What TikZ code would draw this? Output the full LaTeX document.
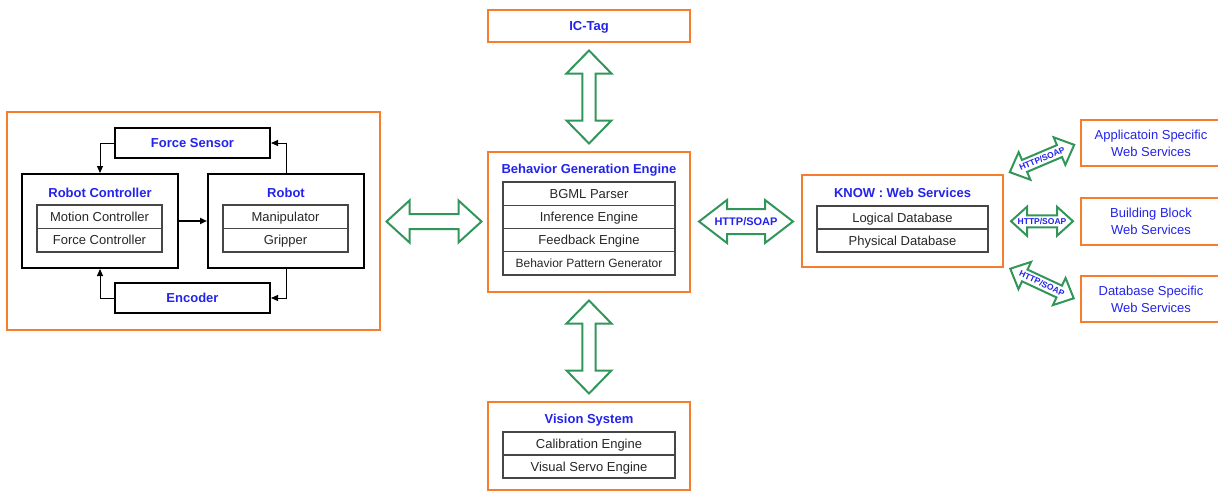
\documentclass[tikz,border=0pt]{standalone}
\usepackage{fontspec}
\setmainfont{Liberation Sans}
\usetikzlibrary{arrows.meta,calc}
\definecolor{orng}{RGB}{245,125,45}
\definecolor{tblue}{RGB}{35,35,235}
\definecolor{agreen}{RGB}{50,150,90}
\definecolor{sgray}{RGB}{70,70,70}
% double-headed block arrow: center, angle, half length, head half width, shaft half width, head length
\newcommand\dblarr[6]{%
  \begin{scope}[shift={#1},rotate=#2]
    \draw[garrow] (-#3,0) -- (-#3+#6,#4) -- (-#3+#6,#5) -- (#3-#6,#5) -- (#3-#6,#4) -- (#3,0)
      -- (#3-#6,-#4) -- (#3-#6,-#5) -- (-#3+#6,-#5) -- (-#3+#6,-#4) -- cycle;
  \end{scope}}
\begin{document}
\begin{tikzpicture}[x=1pt,y=-1pt,
  obox/.style={draw=orng, line width=2pt, inner sep=0pt},
  kbox/.style={draw=black, line width=2pt, inner sep=0pt},
  sbox/.style={draw=sgray, line width=1.1pt, inner sep=0pt, font=\fontsize{13}{15}\selectfont, text=black!85, text height=9.3pt, text depth=0pt},
  tfont/.style={font=\fontsize{13}{15}\selectfont\bfseries, text=tblue, text height=9.3pt, text depth=0pt},
  ttl/.style={tfont, inner sep=0pt},
  rfont/.style={font=\fontsize{13}{17}\selectfont, text=tblue, align=center},
  lbl/.style={font=\fontsize{11}{13}\selectfont\bfseries, text=tblue, inner sep=0pt, text height=7.9pt, text depth=0pt},
  slbl/.style={font=\fontsize{8.5}{10}\selectfont\bfseries, text=tblue, inner sep=0pt, text height=6.1pt, text depth=0pt},
  garrow/.style={draw=agreen, line width=2pt, fill=white, line join=miter},
  fb/.style={line width=1pt, -{Triangle[length=7pt,width=6pt]}},
]
\useasboundingbox (0,0) rectangle (1218,493);

% IC-Tag
\node[obox, tfont, minimum width=202, minimum height=32] (ictag) at (589,26) {IC-Tag};

% Robot system
\node[obox, minimum width=373, minimum height=218] (rsys) at (193.5,221) {};
\node[kbox, tfont, minimum width=155, minimum height=30] (fs) at (192.5,143) {Force Sensor};
\node[kbox, tfont, minimum width=155, minimum height=30] (enc) at (192.5,298) {Encoder};
\node[kbox, minimum width=156, minimum height=94] (rc) at (100,221) {};
\node[ttl] (rct) at (100,193) {Robot Controller};
\node[sbox, minimum width=125, minimum height=23.5] (mc) at (99.5,216.75) {Motion Controller};
\node[sbox, minimum width=125, minimum height=23.5] (fc) at (99.5,240.25) {Force Controller};
\node[kbox, minimum width=156, minimum height=94] (rob) at (286,221) {};
\node[ttl] (robt) at (286,193) {Robot};
\node[sbox, minimum width=125, minimum height=23.5] (man) at (285.5,216.75) {Manipulator};
\node[sbox, minimum width=125, minimum height=23.5] (grip) at (285.5,240.25) {Gripper};

\draw[fb] (fs.west) -| (rc.north);
\draw[fb] (rob.north) |- (fs.east);
\draw[fb] (rob.south) |- (enc.east);
\draw[fb] (enc.west) -| (rc.south);
\draw[line width=2pt, -{Triangle[length=7pt,width=6pt]}] (rc.east) -- (rob.west);

% Behavior Generation Engine
\node[obox, minimum width=202, minimum height=140] (bge) at (589,222) {};
\node[ttl] (bget) at (589,169) {Behavior Generation Engine};
\node[sbox, minimum width=172, minimum height=23.25] (bg1) at (589,193.6) {BGML Parser};
\node[sbox, minimum width=172, minimum height=23.25] (bg2) at (589,216.9) {Inference Engine};
\node[sbox, minimum width=172, minimum height=23.25] (bg3) at (589,240.1) {Feedback Engine};
\node[sbox, minimum width=172, minimum height=23.25, font=\fontsize{12}{14}\selectfont, text height=8.6pt] (bg4) at (589,263.4) {Behavior Pattern Generator};

% Vision System
\node[obox, minimum width=202, minimum height=88] (vis) at (589,446) {};
\node[ttl] (vist) at (589,419) {Vision System};
\node[sbox, minimum width=172, minimum height=23] (vs1) at (589,443.5) {Calibration Engine};
\node[sbox, minimum width=172, minimum height=23] (vs2) at (589,466.5) {Visual Servo Engine};

% KNOW
\node[obox, minimum width=201, minimum height=92] (know) at (902.5,221) {};
\node[ttl] (knowt) at (902.5,193) {KNOW : Web Services};
\node[sbox, minimum width=171, minimum height=23] (kn1) at (902.5,217.5) {Logical Database};
\node[sbox, minimum width=171, minimum height=23] (kn2) at (902.5,240.5) {Physical Database};

% Right services
\node[obox, rfont, minimum width=140, minimum height=46] (app) at (1151,143) {Applicatoin Specific\\Web Services};
\node[obox, rfont, minimum width=140, minimum height=47] (bb) at (1151,221.5) {Building Block\\Web Services};
\node[obox, rfont, minimum width=140, minimum height=46] (db) at (1151,299) {Database Specific\\Web Services};

% Green block arrows
\coordinate (a1) at ($(rsys.east)!0.5!(bge.west)$);
\coordinate (a2) at ($(ictag.south)!0.5!(bge.north)$);
\coordinate (a3) at ($(bge.south)!0.5!(vis.north)$);
\coordinate (a4) at ($(bge.east)!0.5!(know.west)$);
\coordinate (a5) at ($(know.north east)!0.5!(app.west)$);
\coordinate (a6) at ($(know.east)!0.5!(bb.west)$);
\coordinate (a7) at ($(know.south east)!0.5!(db.west)$);

\dblarr{(a1)}{0}{47.5}{21}{7.5}{23}
\dblarr{(a2)}{90}{46.5}{22.5}{6.7}{23}
\dblarr{(a3)}{90}{46.5}{22.5}{6.7}{23}
\dblarr{(a4)}{0}{47}{21.5}{12.5}{28}
\node[lbl] (l4) at (a4) {HTTP/SOAP};
\dblarr{(a5)}{23}{35}{15}{6.5}{16}
\node[slbl, rotate=23] (l5) at (a5) {HTTP/SOAP};
\dblarr{(a6)}{0}{31}{14.5}{6}{16}
\node[slbl] (l6) at (a6) {HTTP/SOAP};
\dblarr{(a7)}{-25}{35}{15}{6.5}{16}
\node[slbl, rotate=-25] (l7) at (a7) {HTTP/SOAP};
\end{tikzpicture}
\end{document}
